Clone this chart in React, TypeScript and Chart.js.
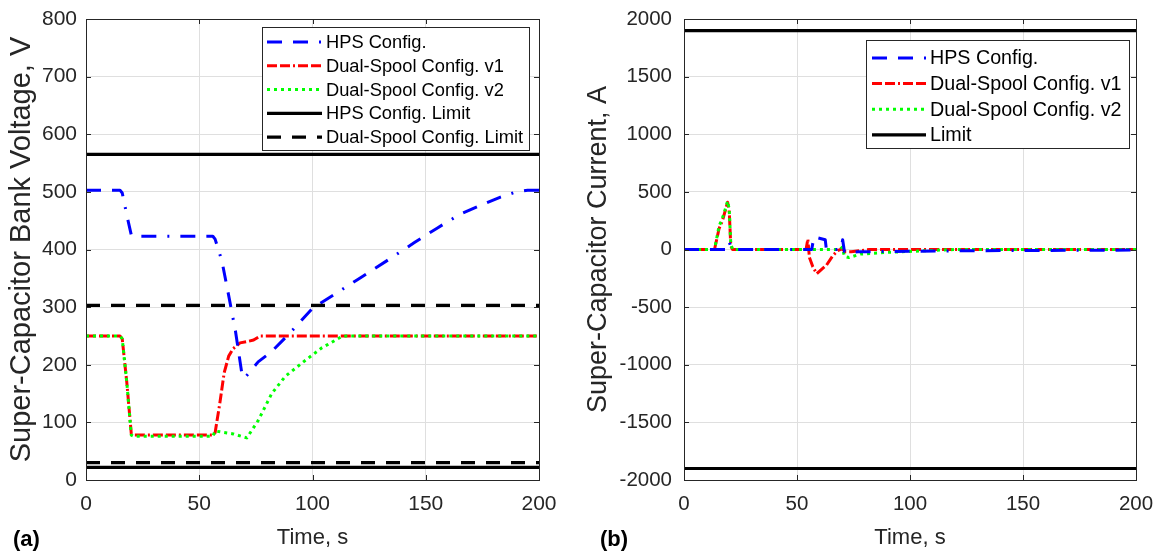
import React, { useEffect, useRef } from "react";
import { Chart, registerables } from "chart.js";

Chart.register(...registerables);

const FONT = "'Liberation Sans', Arial, Helvetica, sans-serif";
const TEXT = "#262626";
const GRID = "#dfdfdf";

// ---------- (a) Super-capacitor bank voltage ----------
const tVoltHps = [0, 15, 16, 18, 20, 21, 56, 57, 60, 63, 66, 69, 70, 72, 76, 82, 90, 100, 110, 120, 135, 145, 155, 165, 175, 183, 190, 195, 200];
const vVoltHps = [503, 503, 498, 460, 425, 423, 423, 418, 380, 320, 258, 180, 177, 186, 205, 223, 255, 298, 323, 348, 386, 412, 437, 461, 478, 491, 500, 503, 503];
const tVoltV1 = [0, 15, 16, 18, 20, 21, 56, 57, 59, 61, 63, 65, 68, 72, 74, 77, 200];
const vVoltV1 = [250, 250, 245, 170, 80, 78, 78, 82, 131, 186, 215, 228, 238, 241, 243, 250, 250];
const tVoltV2 = [0, 15, 16, 18, 20, 21, 56, 57, 65, 71, 73, 76, 82, 88, 96, 104, 113, 115, 200];
const vVoltV2 = [250, 250, 245, 170, 78, 76, 76, 85, 80, 73, 85, 103, 150, 180, 205, 229, 249, 250, 250];
const hpsVoltLimits = [565, 22];
const dualVoltLimits = [303, 30];

// ---------- (b) Super-capacitor current ----------
const tCurHps = [0, 18.5, 19, 20, 20.8, 21.5, 56.5, 57.5, 62.5, 63, 69.5, 70.2, 71, 73, 77, 85, 100, 130, 160, 200];
const vCurHps = [0, 0, 60, 65, 20, 0, 0, 110, 85, 0, 0, 85, -20, -25, -20, -18, -15, -10, -8, -5];
const tCurV1 = [0, 13.5, 15.5, 17, 19.3, 20, 20.7, 21.5, 54, 54.8, 55.5, 57, 58.7, 61, 63, 66, 68, 69.8, 71.5, 74, 78, 82, 200];
const vCurV1 = [0, 0, 180, 250, 410, 340, 30, 0, 0, 90, -70, -150, -210, -170, -137, -50, -10, 5, -20, -20, -10, 0, 0];
const tCurV2 = [0, 13.5, 15.5, 17.5, 19.3, 20, 20.7, 21.5, 69, 70, 71, 73, 78, 90, 110, 120, 200];
const vCurV2 = [0, 0, 200, 300, 420, 350, 50, 0, 0, 20, -60, -70, -40, -25, -8, 0, 0];
const curLimits = [1900, -1900];

const timeRange = [0, 200];
const timeTicks = [0, 50, 100, 150, 200];

// ---------- styles ----------
const BLUE = { color: "#0000ff", dash: [15, 11, 15, 11, 2, 11], width: 3 };
const RED = { color: "#ff0000", dash: [10, 3, 10, 3, 2, 3], width: 3 };
const GREEN = { color: "#00ff00", dash: [3, 4], width: 3 };
const BLACK_SOLID = { color: "#000000", dash: [], width: 3.2 };
const BLACK_DASH = { color: "#000000", dash: [14, 11], width: 3.2 };

type Sty = { color: string; dash: number[]; width: number };

const zip = (t: number[], v: number[]) => t.map((x, i) => ({ x, y: v[i] }));
const flat = (v: number) => timeRange.map((x) => ({ x, y: v }));

function ds(label: string, data: any[], s: Sty, order: number) {
  return {
    label,
    data,
    borderColor: s.color,
    backgroundColor: s.color,
    borderDash: s.dash,
    borderWidth: s.width,
    pointRadius: 0,
    tension: 0,
    fill: false,
    order,
    borderCapStyle: "butt" as const,
    borderJoinStyle: "round" as const,
  };
}

type LegendCfg = {
  x: number; y: number; w: number; h: number;
  rowY0: number; rowStep: number;
  sx0: number; sx1: number; tx: number; fontSize: number;
  items: { label: string; s: Sty }[];
};

function framePlugin(leg: LegendCfg) {
  return {
    id: "matlabFrame",
    afterDraw(chart: any) {
      const { ctx, chartArea: a, scales } = chart;
      ctx.save();
      ctx.strokeStyle = TEXT;
      ctx.lineWidth = 1;
      ctx.setLineDash([]);
      const tl = 5;
      ctx.beginPath();
      for (const t of scales.x.ticks) {
        const px = Math.round(scales.x.getPixelForValue(t.value)) + 0.5;
        ctx.moveTo(px, a.bottom); ctx.lineTo(px, a.bottom - tl);
        ctx.moveTo(px, a.top); ctx.lineTo(px, a.top + tl);
      }
      for (const t of scales.y.ticks) {
        const py = Math.round(scales.y.getPixelForValue(t.value)) + 0.5;
        ctx.moveTo(a.left, py); ctx.lineTo(a.left + tl, py);
        ctx.moveTo(a.right, py); ctx.lineTo(a.right - tl, py);
      }
      ctx.stroke();
      ctx.strokeRect(Math.round(a.left) + 0.5, Math.round(a.top) + 0.5, Math.round(a.right - a.left), Math.round(a.bottom - a.top));

      // legend
      ctx.fillStyle = "#ffffff";
      ctx.fillRect(leg.x, leg.y, leg.w, leg.h);
      ctx.strokeStyle = TEXT;
      ctx.lineWidth = 1;
      ctx.strokeRect(leg.x + 0.5, leg.y + 0.5, leg.w, leg.h);
      ctx.font = `${leg.fontSize}px ${FONT}`;
      ctx.textBaseline = "middle";
      ctx.textAlign = "left";
      leg.items.forEach((it, i) => {
        const y = leg.y + leg.rowY0 + i * leg.rowStep;
        ctx.beginPath();
        ctx.strokeStyle = it.s.color;
        ctx.lineWidth = it.s.width;
        ctx.setLineDash(it.s.dash);
        ctx.lineCap = "butt";
        ctx.moveTo(leg.x + leg.sx0, y);
        ctx.lineTo(leg.x + leg.sx1, y);
        ctx.stroke();
        ctx.setLineDash([]);
        ctx.fillStyle = "#000000";
        ctx.fillText(it.label, leg.x + leg.tx, y + 1);
      });
      ctx.restore();
    },
  };
}

function makeOptions(
  yMin: number, yMax: number, yStep: number, yTitle: string, yTitleSize: number,
  yWidth: number, yTitlePad: number, yTickGap: number, rightPad: number, tickSize: number
) {
  return {
    animation: false,
    responsive: false,
    maintainAspectRatio: false,
    events: [],
    layout: { padding: { left: 0, top: 19, right: rightPad, bottom: 0 } },
    plugins: { legend: { display: false }, tooltip: { enabled: false }, title: { display: false } },
    scales: {
      x: {
        type: "linear",
        min: timeRange[0],
        max: timeRange[1],
        afterBuildTicks: (scale: any) => { scale.ticks = timeTicks.map((v) => ({ value: v })); },
        afterFit: (scale: any) => { scale.height = 72; },
        grid: { color: GRID, drawTicks: true, tickLength: 12, tickColor: "rgba(0,0,0,0)", lineWidth: 1 },
        border: { display: false },
        ticks: { color: TEXT, font: { family: FONT, size: tickSize }, padding: 0, maxRotation: 0, callback: (v: any) => String(v) },
        title: { display: true, text: "Time, s", color: TEXT, font: { family: FONT, size: 22 }, padding: { top: 0, bottom: 1 } },
      },
      y: {
        type: "linear",
        min: yMin,
        max: yMax,
        ticks: { stepSize: yStep, color: TEXT, font: { family: FONT, size: tickSize }, padding: 0, callback: (v: any) => String(v) },
        afterFit: (scale: any) => { scale.width = yWidth; },
        grid: { color: GRID, drawTicks: true, tickLength: yTickGap, tickColor: "rgba(0,0,0,0)", lineWidth: 1 },
        border: { display: false },
        title: { display: true, text: yTitle, color: TEXT, font: { family: FONT, size: yTitleSize }, padding: { top: yTitlePad, bottom: 0 } },
      },
    },
  };
}

function ChartA() {
  const ref = useRef<HTMLCanvasElement>(null);
  useEffect(() => {
    const chart = new Chart(ref.current!, {
      type: "line",
      data: {
        datasets: [
          ds("HPS Config.", zip(tVoltHps, vVoltHps), BLUE, 3),
          ds("Dual-Spool Config. v1", zip(tVoltV1, vVoltV1), RED, 5),
          ds("Dual-Spool Config. v2", zip(tVoltV2, vVoltV2), GREEN, 4),
          ds("HPS Config. Limit", flat(hpsVoltLimits[0]), BLACK_SOLID, 2),
          ds("HPS Config. Limit lower", flat(hpsVoltLimits[1]), BLACK_SOLID, 2),
          ds("Dual-Spool Config. Limit", flat(dualVoltLimits[0]), BLACK_DASH, 1),
          ds("Dual-Spool Config. Limit lower", flat(dualVoltLimits[1]), BLACK_DASH, 1),
        ],
      },
      options: makeOptions(0, 800, 100, "Super-Capacitor Bank Voltage, V", 29, 86, 5, 9, 41, 21) as any,
      plugins: [
        framePlugin({
          x: 262, y: 27, w: 267, h: 123, rowY0: 15, rowStep: 23.8, sx0: 5, sx1: 60, tx: 64, fontSize: 18.3,
          items: [
            { label: "HPS Config.", s: BLUE },
            { label: "Dual-Spool Config. v1", s: RED },
            { label: "Dual-Spool Config. v2", s: GREEN },
            { label: "HPS Config. Limit", s: BLACK_SOLID },
            { label: "Dual-Spool Config. Limit", s: BLACK_DASH },
          ],
        }),
      ],
    });
    return () => chart.destroy();
  }, []);
  return <canvas ref={ref} width={580} height={552} style={{ position: "absolute", left: 0, top: 0 }} />;
}

function ChartB() {
  const ref = useRef<HTMLCanvasElement>(null);
  useEffect(() => {
    const chart = new Chart(ref.current!, {
      type: "line",
      data: {
        datasets: [
          ds("HPS Config.", zip(tCurHps, vCurHps), BLUE, 3),
          ds("Dual-Spool Config. v1", zip(tCurV1, vCurV1), RED, 5),
          ds("Dual-Spool Config. v2", zip(tCurV2, vCurV2), GREEN, 4),
          ds("Limit", flat(curLimits[0]), BLACK_SOLID, 1),
          ds("Limit lower", flat(curLimits[1]), BLACK_SOLID, 1),
        ],
      },
      options: makeOptions(-2000, 2000, 500, "Super-Capacitor Current, A", 27, 104, 2, 12, 23, 20.5) as any,
      plugins: [
        framePlugin({
          x: 286, y: 40, w: 263, h: 108, rowY0: 18, rowStep: 25.6, sx0: 6, sx1: 60, tx: 64, fontSize: 19.7,
          items: [
            { label: "HPS Config.", s: BLUE },
            { label: "Dual-Spool Config. v1", s: RED },
            { label: "Dual-Spool Config. v2", s: GREEN },
            { label: "Limit", s: BLACK_SOLID },
          ],
        }),
      ],
    });
    return () => chart.destroy();
  }, []);
  return <canvas ref={ref} width={579} height={552} style={{ position: "absolute", left: 580, top: 0 }} />;
}

const panelLabel: React.CSSProperties = {
  position: "absolute",
  top: 527,
  fontFamily: FONT,
  fontWeight: "bold",
  fontSize: 22,
  lineHeight: "24px",
  color: "#000",
};

export default function App() {
  return (
    <div style={{ position: "absolute", left: 0, top: 0, width: 1159, height: 552, background: "#fff", overflow: "hidden" }}>
      <ChartA />
      <ChartB />
      <div style={{ ...panelLabel, left: 13 }}>(a)</div>
      <div style={{ ...panelLabel, left: 600 }}>(b)</div>
    </div>
  );
}
